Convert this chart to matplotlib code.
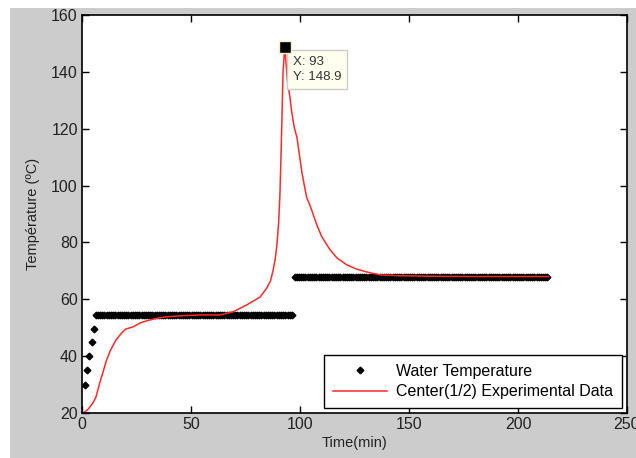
import numpy as np
import matplotlib
matplotlib.use('Agg')
import matplotlib.pyplot as plt
from matplotlib.patches import Rectangle

plt.rcParams['font.family'] = ['Liberation Sans', 'DejaVu Sans']

# Water temperature: initial ramp, then two plateaus
ramp_t = [1.5, 2.5, 3.3, 4.4, 5.6]
ramp_y = [30, 35, 40, 45, 49.5]
plateau1_t = np.arange(6.3, 97.0, 1.0)
plateau1_val = 54.5
plateau2_t = np.arange(97.5, 214.5, 1.0)
plateau2_val = 68.0

center_t = [0, 1.4, 3, 5, 6.4, 8.1, 9.5, 11, 13, 15.6, 18, 20, 23.4, 27, 31, 35,
            38.5, 45, 54, 63.3, 69.3, 75.5, 81.7, 84.8, 86.5, 87.6, 88.6, 89.4,
            90.2, 90.8, 91.2, 91.7, 92.2, 93, 93.6, 94.2, 95.4, 96, 96.8, 97.5,
            98.6, 100.9, 103, 104.6, 107.8, 110, 113.8, 117, 121.5, 126, 130.7,
            136.7, 145, 160, 180, 200, 214]
center_y = [20, 20.4, 21.5, 23.5, 25.6, 30.5, 34, 38, 42, 45.7, 48, 49.5, 50.3,
            51.8, 52.7, 53.4, 53.8, 54.2, 54.5, 54.5, 55.6, 58, 60.8, 64, 66.5,
            70, 74, 79, 87, 97, 108, 123, 139.7, 148.9, 143, 137, 131, 127, 123,
            120, 117, 104.5, 96, 93, 86, 82, 77.4, 74.5, 72.1, 70.6, 69.6, 68.6,
            68.3, 68.1, 68.0, 68.0, 68.0]

peak_x = 93
peak_y = 148.9

fig = plt.figure(figsize=(6.36, 4.58), dpi=100, facecolor='white')
fig.patches.append(Rectangle((10 / 636, 0), 1, 1 - 8 / 458, transform=fig.transFigure,
                             facecolor='#cccccc', edgecolor='none', zorder=-1))
ax = fig.add_axes([82 / 636, 1 - 413 / 458, (627 - 82) / 636, (413 - 15) / 458])

water_t = list(ramp_t) + list(plateau1_t) + list(plateau2_t)
water_y = list(ramp_y) + [plateau1_val] * len(plateau1_t) + [plateau2_val] * len(plateau2_t)
ax.plot(water_t, water_y, linestyle='none', marker='D', markersize=3.4,
        color='black', label='Water Temperature')
ax.plot(center_t, center_y, color='#ff2a2a', linewidth=1.1,
        label='Center(1/2) Experimental Data')

# data tip
ax.plot([peak_x], [peak_y], marker='s', markersize=8, color='black',
        markeredgecolor='#f5f0c8', markeredgewidth=1, zorder=5)
ax.text(peak_x + 3.8, peak_y - 3.2, f'X: {peak_x}\nY: {peak_y}', fontsize=9.5,
        color='#333333', va='top', ha='left', linespacing=1.35,
        bbox=dict(boxstyle='square,pad=0.45', facecolor='#fffff0', edgecolor='#cccccc'))

ax.set_xlim(0, 250)
ax.set_ylim(20, 160)
ax.set_xticks([0, 50, 100, 150, 200, 250])
ax.set_yticks([20, 40, 60, 80, 100, 120, 140, 160])
ax.tick_params(direction='in', top=True, right=True, length=5, width=1,
               labelsize=11.5, labelcolor='#222222', pad=3)
for s in ax.spines.values():
    s.set_linewidth(1.2)
ax.set_xlabel('Time(min)', fontsize=10.5, color='#222222', labelpad=3)
ax.set_ylabel('Température (ºC)', fontsize=10.5, color='#222222', labelpad=8)

leg = ax.legend(loc='lower right', fontsize=11.5, fancybox=False, framealpha=1,
                edgecolor='black', borderaxespad=0.3, handlelength=3.4,
                labelspacing=0.35, borderpad=0.55, handletextpad=0.6)
leg.get_frame().set_linewidth(1.0)

fig.savefig('out.png', dpi=100, facecolor=fig.get_facecolor())
